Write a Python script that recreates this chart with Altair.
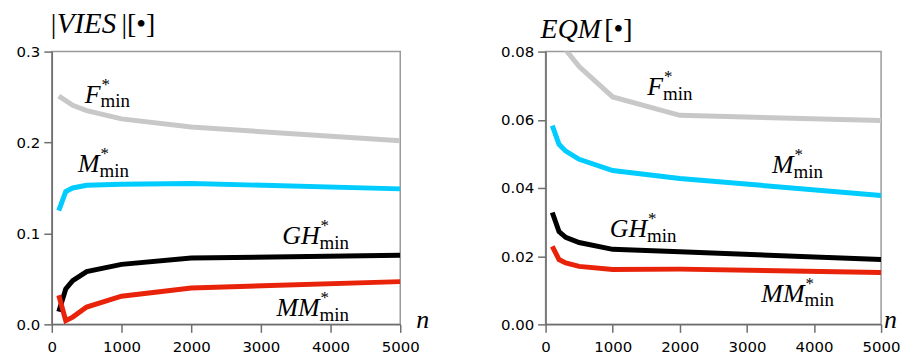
import altair as alt
import pandas as pd

# ---- data -------------------------------------------------------------
n_values = [100, 200, 300, 500, 1000, 2000, 5000]
series_names = ["F", "M", "GH", "MM"]
series_colors = ["#c8c8c8", "#00ccff", "#000000", "#e8230a"]

vies_F = [0.251, 0.246, 0.241, 0.235, 0.226, 0.217, 0.202]
vies_M = [0.125, 0.146, 0.150, 0.153, 0.154, 0.155, 0.149]
vies_GH = [0.014, 0.039, 0.048, 0.058, 0.066, 0.073, 0.076]
vies_MM = [0.032, 0.004, 0.008, 0.019, 0.031, 0.040, 0.047]

eqm_F = [0.098, 0.088, 0.0805, 0.0756, 0.0667, 0.0613, 0.0598]
eqm_M = [0.0583, 0.0528, 0.0508, 0.0484, 0.0451, 0.0428, 0.0378]
eqm_GH = [0.0328, 0.0272, 0.0255, 0.0240, 0.0220, 0.0213, 0.0190]
eqm_MM = [0.0229, 0.0190, 0.0180, 0.0170, 0.0161, 0.0162, 0.0152]

# label anchors (n, value) per series
vies_label_n = [700, 686, 3843, 3843]
vies_label_v = [0.244, 0.1675, 0.0887, 0.0088]
eqm_label_n = [1751, 3694, 1513, 3858]
eqm_label_v = [0.0674, 0.0445, 0.0255, 0.0067]

x_ticks = [0, 1000, 2000, 3000, 4000, 5000]
vies_ticks = [0.0, 0.1, 0.2, 0.3]
eqm_ticks = [0.00, 0.02, 0.04, 0.06, 0.08]

SERIF = "Liberation Serif"


def txt(text, x, y, italic, size=28):
    one = pd.DataFrame({"a": [0]})
    kw = dict(font=SERIF, fontSize=size, align="left", baseline="alphabetic", color="black")
    if italic:
        kw["fontStyle"] = "italic"
    return alt.Chart(one).mark_text(**kw).encode(
        x=alt.value(x), y=alt.value(y), text=alt.value(text))


def panel(series_vals, lab_n, lab_v, ymax, yticks, yfmt, width, title_parts, n_dx):
    rows = []
    for name, vals in zip(series_names, series_vals):
        for n, v in zip(n_values, vals):
            rows.append({"n": n, "v": v, "s": name})
    df = pd.DataFrame(rows)
    lab = pd.DataFrame({"n": lab_n, "v": lab_v, "t": series_names})

    xs = alt.Scale(domain=[0, 5000], nice=False)
    ys = alt.Scale(domain=[0, ymax], nice=False)
    X = alt.X("n:Q", scale=xs, title=None,
              axis=alt.Axis(values=x_ticks, format="d", title=None, labelFlush=False))
    Y = alt.Y("v:Q", scale=ys, title=None,
              axis=alt.Axis(values=yticks, format=yfmt, title=None, labelFlush=False))

    lines = alt.Chart(df).mark_line(strokeWidth=5, clip=True).encode(
        x=X, y=Y,
        color=alt.Color("s:N", scale=alt.Scale(domain=series_names, range=series_colors), legend=None),
    )
    Xl = alt.X("n:Q", scale=xs, title=None)
    Yl = alt.Y("v:Q", scale=ys, title=None)
    main = alt.Chart(lab).mark_text(font=SERIF, fontStyle="italic", fontSize=26,
                                    align="right", baseline="alphabetic", color="black").encode(
        x=Xl, y=Yl, text="t:N")
    sub = alt.Chart(lab).mark_text(font=SERIF, fontSize=19, align="left",
                                   baseline="alphabetic", dy=5, color="black").encode(
        x=Xl, y=Yl, text=alt.value("min"))
    star = alt.Chart(lab).mark_text(font=SERIF, fontSize=17, align="left",
                                    baseline="alphabetic", dx=1, dy=-13, color="black").encode(
        x=Xl, y=Yl, text=alt.value("*"))

    titles = [txt(t, x, y, it, s) for (t, x, y, it, s) in title_parts]
    nlab = txt("n", width + n_dx, 274 + 4, True, 26)

    return alt.layer(lines, main, sub, star, *titles, nlab).properties(width=width, height=274)


left = panel([vies_F, vies_M, vies_GH, vies_MM], vies_label_n, vies_label_v,
             0.3, vies_ticks, ".1f", 350,
             [("|", -1, -19, False, 28), ("VIES", 5, -19, True, 29), ("|[•]", 70, -19, False, 28)], 16)
right = panel([eqm_F, eqm_M, eqm_GH, eqm_MM], eqm_label_n, eqm_label_v,
              0.08, eqm_ticks, ".2f", 337,
              [("EQM", -5, -14, True, 28), ("[•]", 59, -14, False, 28)], 3)

chart = alt.hconcat(left, right, spacing=146, bounds="flush").properties(
    padding={"left": 7, "top": 0, "right": 0, "bottom": 0}
).configure_axis(
    labelFont="DejaVu Sans", labelFontSize=15, labelColor="black",
    domainColor="#6e6e6e", tickColor="#6e6e6e", tickSize=8, grid=False,
    domainWidth=1.5, tickWidth=1.5,
).configure_axisX(labelPadding=7).configure_axisY(labelPadding=4).configure_view(
    stroke="#9a9a9a", strokeWidth=1.5
)

chart.save("out.html", embed_options={"renderer": "svg", "actions": False})
